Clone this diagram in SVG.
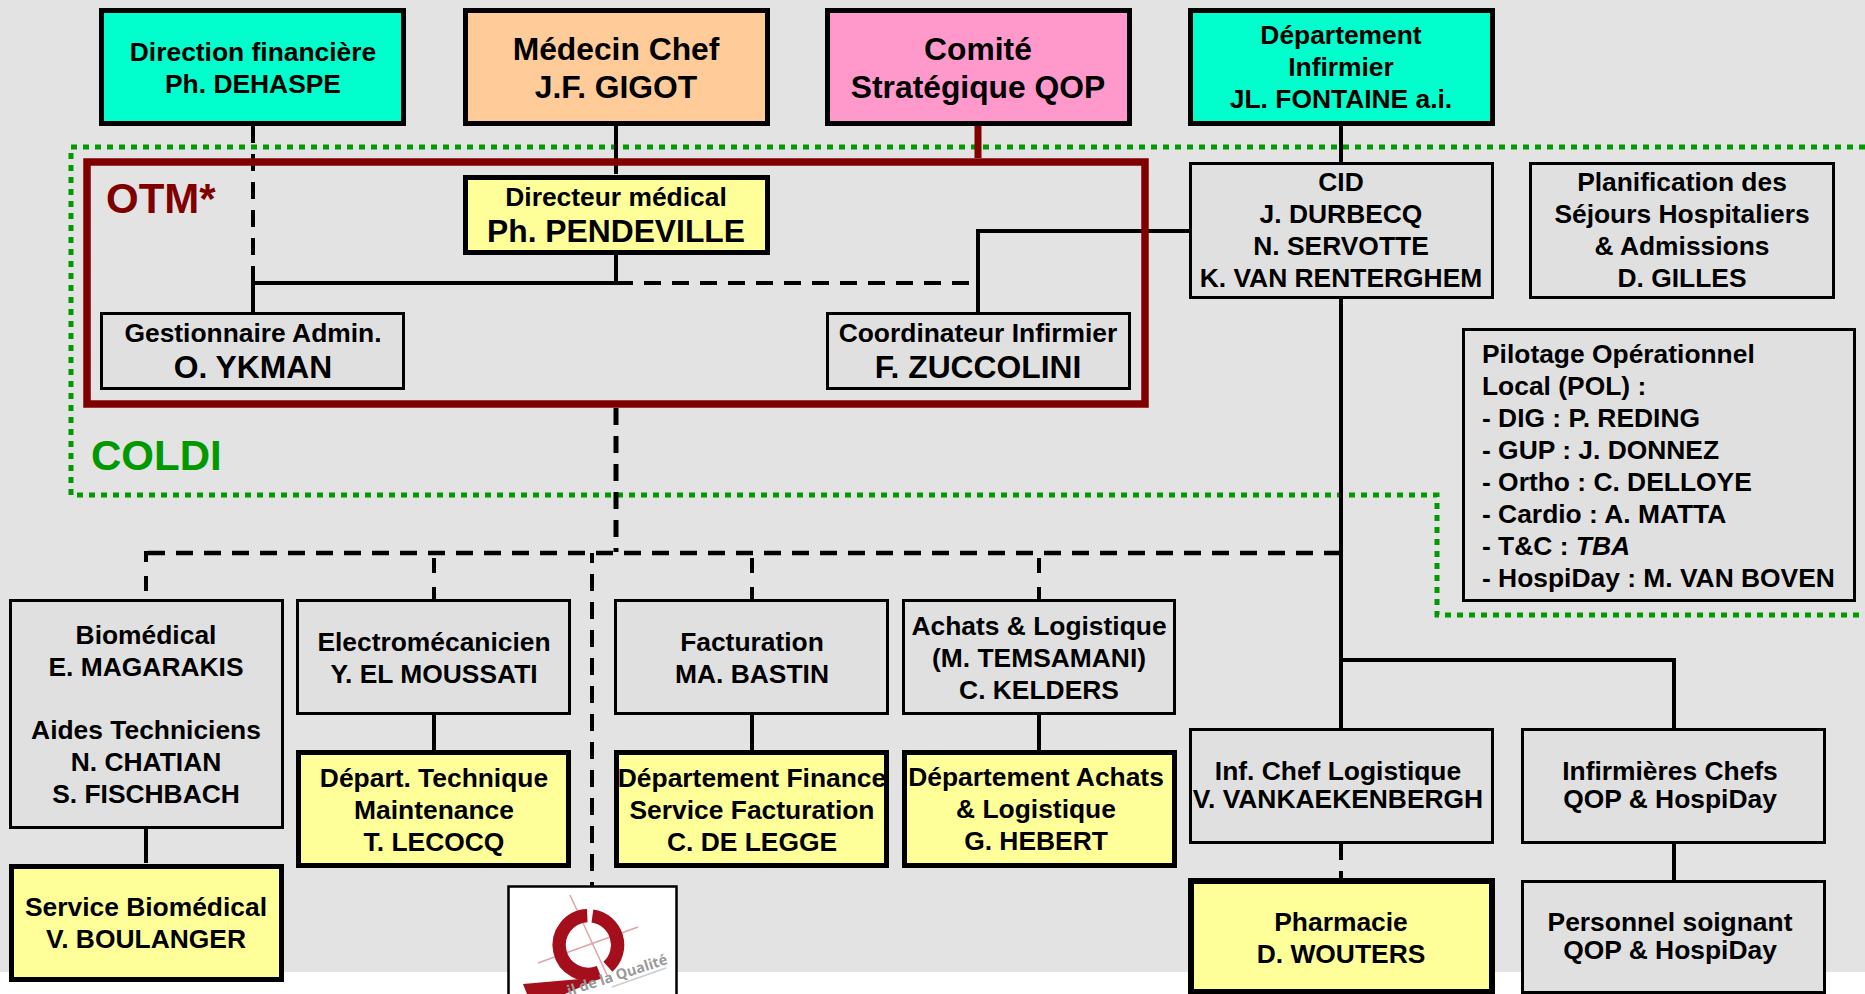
<svg xmlns="http://www.w3.org/2000/svg" width="1865" height="994" viewBox="0 0 1865 994">
<style>
text{font-family:"Liberation Sans",Arial,sans-serif;font-weight:700;fill:#000;text-anchor:middle;font-size:26.400px}
.l{font-size:31.800px}
.s{text-anchor:start}
.thick{stroke:#000;stroke-width:5}
.thin{fill:#e0e0e0;stroke:#000;stroke-width:3}
.y{fill:#ffff99}
.c{fill:#00ffcc}
.ln{fill:none;stroke:#000;stroke-width:4}
.d{stroke-dasharray:17 11}
.t{stroke-dasharray:15 14}
</style>
<rect width="1865" height="972" fill="#e3e3e3"/>
<g id="logo">
<rect x="508.500" y="886.500" width="168" height="120" fill="#fff" stroke="#000" stroke-width="2.500"/>
<g fill="none" stroke="#dfa3aa" stroke-width="1.500"><path d="M570 895L607 975"/><path d="M538 963L638 927"/></g>
<g fill="none" stroke="#a50f1b" stroke-width="13.300"><path d="M592.400 916A29.300 29.300 0 0 1 607.900 966.800"/><path d="M599.300 972.200A29.300 29.300 0 1 1 587.300 915.700"/></g>
<path d="M523 984L603 977L565 994L527 994Z" fill="#a50f1b"/>
<path d="M612 987L666 968" stroke="#ccc" stroke-width="1.500"/>
<text transform="translate(569 996) rotate(-18)" style="font-family:'Open Sans',sans-serif;font-size:14.500px;fill:#999;text-anchor:start">il de la Qualité</text>
</g>
<g id="coldi-boundary"><path d="M1865 147H71V495H1437V615H1865" fill="none" stroke="#009900" stroke-width="5" stroke-dasharray="6 6"/></g>
<g id="connectors">
<path class="ln d" d="M253 126V283"/>
<path class="ln" d="M253 312V283H616M616 126V174M616 255V283"/>
<path class="ln d" d="M616 283H975"/>
<path class="ln" d="M978 312V231H1189"/>
<path d="M978 126V158" fill="none" stroke="#800000" stroke-width="7"/>
<path class="ln" d="M1341 126V162M1341 298V728M1341 660H1674V728M1674 843V880"/>
<path class="ln d" d="M1341 843V879"/>
<path class="ln d" style="stroke-width:5" d="M616 408V552"/>
<path class="ln d" style="stroke-width:4.500" d="M1341 553H148"/>
<path class="ln t" d="M146 551V594" stroke-dashoffset="4"/>
<path class="ln t" d="M434 558V599M752 558V599M1039 558V599"/>
<path class="ln d" d="M592 553V886" stroke-dashoffset="7"/>
<path class="ln" d="M146 828V863M434 714V750M752 714V750M1039 714V750"/>
</g>
<g id="otm"><rect x="87" y="162" width="1058" height="242" fill="none" stroke="#800000" stroke-width="7.500"/><text x="106" y="213" class="s" style="font-size:42px;fill:#800000">OTM*</text></g>
<g id="coldi"><text x="91" y="470" class="s" style="font-size:42px;fill:#009900">COLDI</text></g>
<g id="direction"><rect class="thick c" x="101.500" y="10.500" width="302" height="113"/><text x="253" y="61">Direction financière</text><text x="253" y="93">Ph. DEHASPE</text></g>
<g id="medecin"><rect class="thick" fill="#ffcc99" x="465.500" y="10.500" width="302" height="113"/><text class="l" x="616" y="60">Médecin Chef</text><text class="l" x="616" y="98">J.F. GIGOT</text></g>
<g id="comite"><rect class="thick" fill="#ff99cc" x="827.500" y="10.500" width="302" height="113"/><text class="l" x="978" y="60">Comité</text><text class="l" x="978" y="98">Stratégique QOP</text></g>
<g id="departement"><rect class="thick c" x="1190.500" y="10.500" width="302" height="113"/><text x="1341" y="44">Département</text><text x="1341" y="76">Infirmier</text><text x="1341" y="108">JL. FONTAINE a.i.</text></g>
<g id="directeur"><rect class="thick y" x="465.500" y="177.500" width="302" height="75"/><text x="616" y="206">Directeur médical</text><text class="l" x="616" y="242">Ph. PENDEVILLE</text></g>
<g id="gestionnaire"><rect class="thin" x="101.500" y="313.500" width="302" height="75"/><text x="253" y="342">Gestionnaire Admin.</text><text class="l" x="253" y="378">O. YKMAN</text></g>
<g id="coordinateur"><rect class="thin" x="827.500" y="313.500" width="302" height="75"/><text x="978" y="342">Coordinateur Infirmier</text><text class="l" x="978" y="378">F. ZUCCOLINI</text></g>
<g id="cid"><rect class="thin" x="1190.500" y="163.500" width="302" height="134"/><text x="1341" y="191">CID</text><text x="1341" y="223">J. DURBECQ</text><text x="1341" y="255">N. SERVOTTE</text><text x="1341" y="287">K. VAN RENTERGHEM</text></g>
<g id="planification"><rect class="thin" x="1530.500" y="163.500" width="303" height="134"/><text x="1682" y="191">Planification des</text><text x="1682" y="223">Séjours Hospitaliers</text><text x="1682" y="255">&amp; Admissions</text><text x="1682" y="287">D. GILLES</text></g>
<g id="pilotage"><rect class="thin" x="1463.500" y="329.500" width="391" height="271"/><text class="s" x="1482" y="363">Pilotage Opérationnel</text><text class="s" x="1482" y="395">Local (POL) :</text><text class="s" x="1482" y="427">- DIG : P. REDING</text><text class="s" x="1482" y="459">- GUP : J. DONNEZ</text><text class="s" x="1482" y="491">- Ortho : C. DELLOYE</text><text class="s" x="1482" y="523">- Cardio : A. MATTA</text><text class="s" x="1482" y="555">- T&amp;C : <tspan font-style="italic">TBA</tspan></text><text class="s" x="1482" y="587">- HospiDay : M. VAN BOVEN</text></g>
<g id="biomedical"><rect class="thin" x="10.500" y="600.500" width="272" height="227"/><text x="146" y="644">Biomédical</text><text x="146" y="676">E. MAGARAKIS</text><text x="146" y="739">Aides Techniciens</text><text x="146" y="771">N. CHATIAN</text><text x="146" y="803">S. FISCHBACH</text></g>
<g id="electro"><rect class="thin" x="297.500" y="600.500" width="272" height="113"/><text x="434" y="651">Electromécanicien</text><text x="434" y="683">Y. EL MOUSSATI</text></g>
<g id="facturation"><rect class="thin" x="615.500" y="600.500" width="272" height="113"/><text x="752" y="651">Facturation</text><text x="752" y="683">MA. BASTIN</text></g>
<g id="achats"><rect class="thin" x="903.500" y="600.500" width="271" height="113"/><text x="1039" y="635">Achats &amp; Logistique</text><text x="1039" y="667">(M. TEMSAMANI)</text><text x="1039" y="699">C. KELDERS</text></g>
<g id="service-bio"><rect class="thick y" x="11.500" y="866.500" width="270" height="113"/><text x="146" y="916">Service Biomédical</text><text x="146" y="948">V. BOULANGER</text></g>
<g id="depart-tech"><rect class="thick y" x="298.500" y="752.500" width="270" height="113"/><text x="434" y="787">Départ. Technique</text><text x="434" y="819">Maintenance</text><text x="434" y="851">T. LECOCQ</text></g>
<g id="dept-finance"><rect class="thick y" x="616.500" y="752.500" width="270" height="113"/><text x="752" y="787">Département Finance</text><text x="752" y="819">Service Facturation</text><text x="752" y="851">C. DE LEGGE</text></g>
<g id="dept-achats"><rect class="thick y" x="904.500" y="752.500" width="270" height="113"/><text x="1036" y="786">Département Achats</text><text x="1036" y="818">&amp; Logistique</text><text x="1036" y="850">G. HEBERT</text></g>
<g id="inf-chef"><rect class="thin" x="1190.500" y="729.500" width="302" height="113"/><text x="1338" y="780">Inf. Chef Logistique</text><text x="1338" y="808">V. VANKAEKENBERGH</text></g>
<g id="inf-chefs"><rect class="thin" x="1522.500" y="729.500" width="302" height="113"/><text x="1670" y="780">Infirmières Chefs</text><text x="1670" y="808">QOP &amp; HospiDay</text></g>
<g id="pharmacie"><rect class="thick y" style="stroke-width:6" x="1191" y="881" width="301" height="111"/><text x="1341" y="931">Pharmacie</text><text x="1341" y="963">D. WOUTERS</text></g>
<g id="personnel"><rect class="thin" x="1522.500" y="881.500" width="302" height="111"/><text x="1670" y="931">Personnel soignant</text><text x="1670" y="959">QOP &amp; HospiDay</text></g>
</svg>
